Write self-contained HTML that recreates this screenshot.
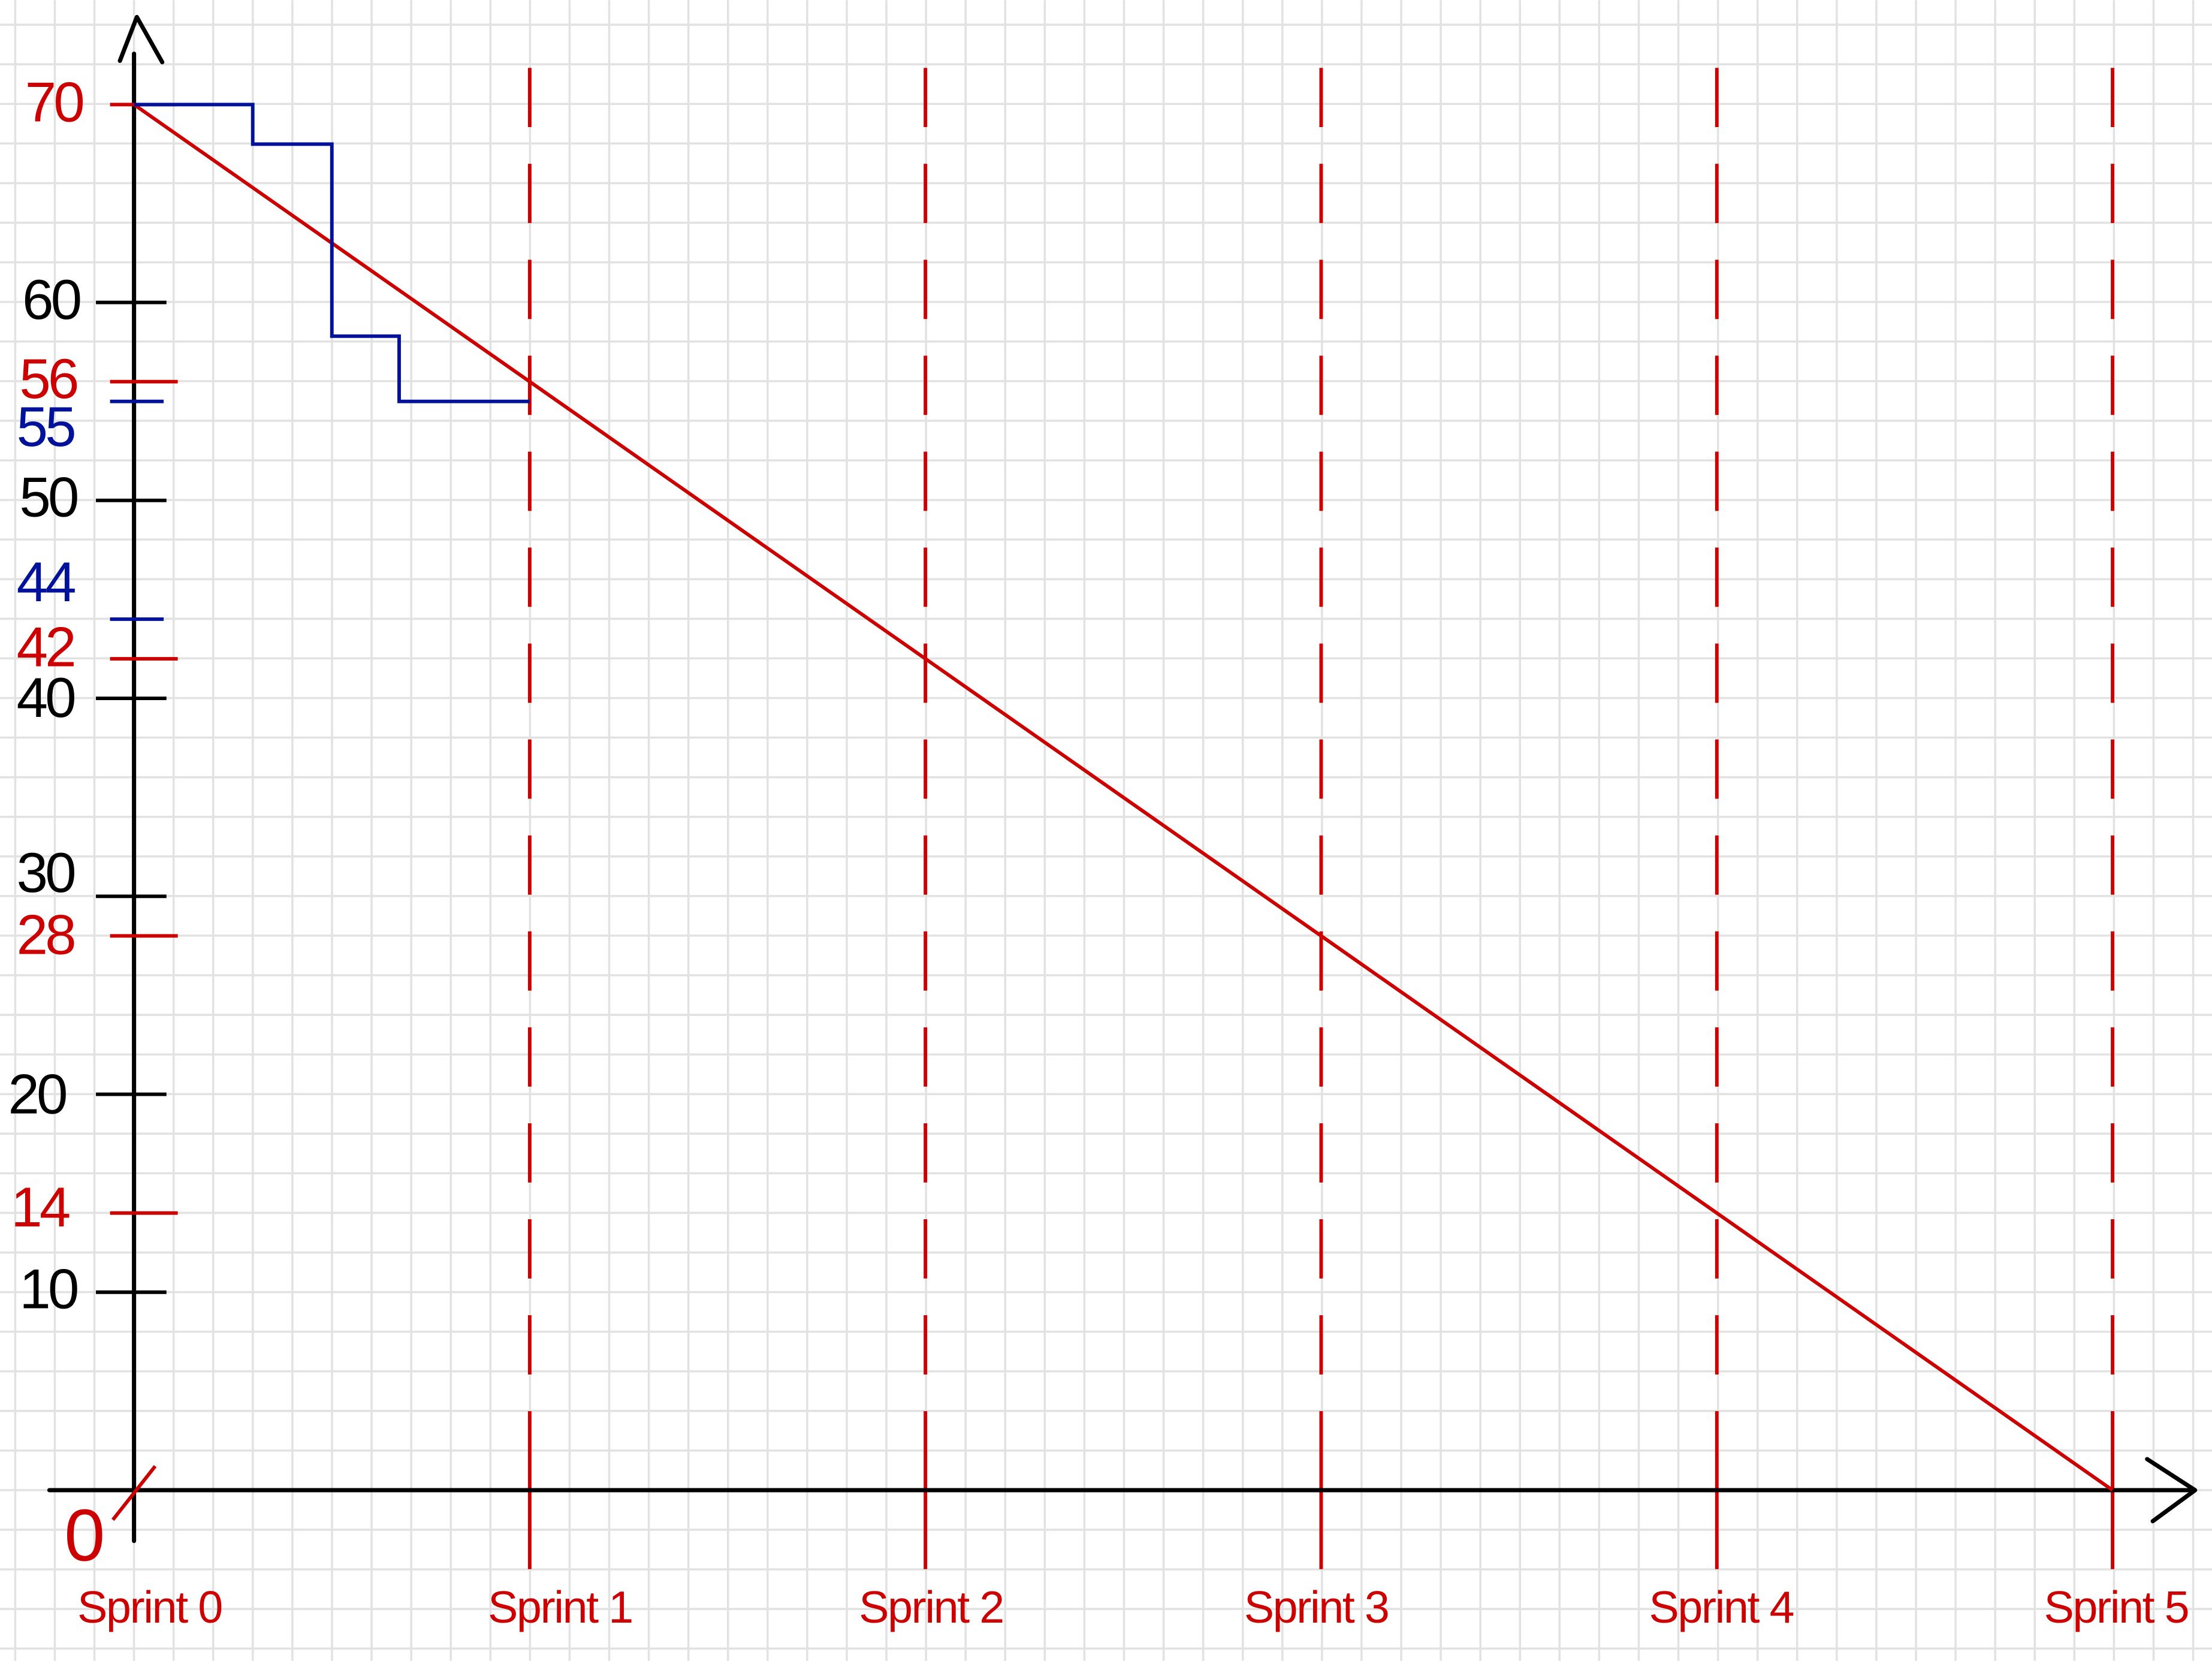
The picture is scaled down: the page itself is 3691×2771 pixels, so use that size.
<!DOCTYPE html>
<html><head><meta charset="utf-8"><style>
html,body{margin:0;padding:0;background:#fff;}
svg{display:block;}
text{font-family:"Liberation Sans",sans-serif;}
</style></head><body>
<svg id="chart" width="3691" height="2771" viewBox="0 0 1568 1177" xmlns="http://www.w3.org/2000/svg">
<g id="grid"></g>
<g id="marks"></g>
</svg>
<script>
const sprintLabels = ["Sprint 0","Sprint 1","Sprint 2","Sprint 3","Sprint 4","Sprint 5"];
const idealValues = [70, 56, 42, 28, 14, 0];
const actualSprint = [0, 0.3, 0.3, 0.5, 0.5, 0.67, 0.67, 1];
const actualValues = [70, 70, 68, 68, 58.3, 58.3, 55, 55];
const blackTicks = [10, 20, 30, 40, 50, 60];
const redTicks = [14, 28, 42, 56, 70];
const blueTicks = [44, 55];

const NS = "http://www.w3.org/2000/svg";
const X0 = 95, SP = 280.5, Y0 = 1056, YU = 982/70;
const xs = s => X0 + s*SP;
const ys = v => Y0 - v*YU;
function mk(tag, attrs, parent){ const e=document.createElementNS(NS,tag); for(const k in attrs) e.setAttribute(k,attrs[k]); parent.appendChild(e); return e; }
const grid = document.getElementById('grid');
const g = document.getElementById('marks');

for(let x = X0 - 28.07*3; x < 1570; x += 28.07){
  const l = mk('line',{x1:x,y1:0,x2:x,y2:1177,stroke:'#e2e2e2','stroke-width':1.5},grid);
  
  
}
for(let y = Y0 + 28.07*4; y > -5; y -= 28.07){
  const l = mk('line',{x1:0,y1:y,x2:1568,y2:y,stroke:'#e2e2e2','stroke-width':1.5},grid);
  
  
}

const labelX = [106, 397, 660, 933, 1220, 1500];
sprintLabels.forEach((lab,i)=>{
  if(i>0){
    const d = mk('line',{x1:xs(i),y1:48,x2:xs(i),y2:1025,stroke:'#cc0000','stroke-width':2.5,'stroke-dasharray':'42 26'},g);
    
    
    const s = mk('line',{x1:xs(i),y1:1025,x2:xs(i),y2:1112,stroke:'#cc0000','stroke-width':2.5},g);
    
    
  }
  const t = mk('text',{x:labelX[i],y:1150,'font-size':32,fill:'#cc0000','text-anchor':'middle','letter-spacing':-1},g);
  t.textContent = lab;
  
  
});

const ax = mk('path',{d:`M${X0} 1092 L${X0} 38 M85 43 L97 12 L115 44`,stroke:'#000','stroke-width':3,fill:'none','stroke-linejoin':'round','stroke-linecap':'round'},g);


const axx = mk('path',{d:`M35 ${Y0} L1555 ${Y0} M1522 1034 L1556 ${Y0} L1526 1078`,stroke:'#000','stroke-width':3,fill:'none','stroke-linejoin':'round','stroke-linecap':'round'},g);



const labelPos = {70:[38,72],60:[36,212],56:[34,268],55:[32,302],50:[34,352],44:[32,412],42:[32,458],40:[32,494],30:[32,618],28:[32,662],20:[26,775],14:[28,855],10:[34,913]};
function tick(v,color,x1,x2,name){
  const l = mk('line',{x1:x1,y1:ys(v),x2:x2,y2:ys(v),stroke:color,'stroke-width':2.5},g);
  
  
  const p = labelPos[v] || [34, ys(v)];
  const t = mk('text',{x:p[0],y:p[1]+14,'font-size':40,fill:color,'text-anchor':'middle','letter-spacing':-2},g);
  t.textContent = v;
  
  
}
blackTicks.forEach(v=>tick(v,'#000',68,118,'y-tick-'+v));
redTicks.forEach(v=>tick(v,'#cc0000',78,126,'ideal-tick-'+v));
blueTicks.forEach(v=>tick(v,'#00129a',78,116,'actual-tick-'+v));
const z = mk('text',{x:60,y:1106,'font-size':52,fill:'#cc0000','text-anchor':'middle'},g);
z.textContent='0';


const zs = mk('line',{x1:80,y1:1077,x2:110,y2:1039,stroke:'#cc0000','stroke-width':2.5},g);



const ideal = mk('polyline',{points:idealValues.map((v,i)=>xs(i)+','+ys(v)).join(' '),stroke:'#cc0000','stroke-width':2.5,fill:'none'},g);


const act = mk('polyline',{points:actualValues.map((v,i)=>xs(actualSprint[i])+','+ys(v)).join(' '),stroke:'#00129a','stroke-width':2.5,fill:'none'},g);


</script>
</body></html>
